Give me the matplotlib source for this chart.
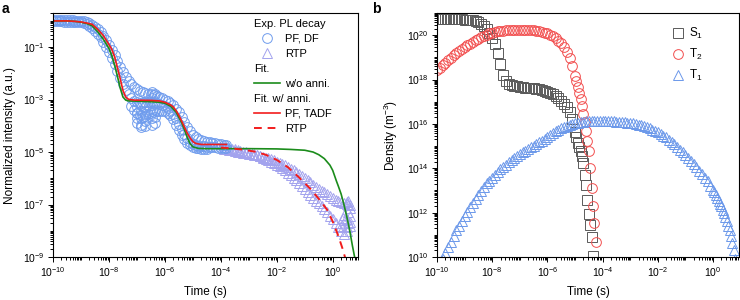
import numpy as np
import matplotlib
matplotlib.use("Agg")
import matplotlib.pyplot as plt
from matplotlib.ticker import FixedLocator, LogLocator, NullFormatter, LogFormatterMathtext
from matplotlib.lines import Line2D

pf_logt = np.linspace(-10, -3.8, 63)
pf_hi = [0.03, 0.03, 0.03, 0.03, 0.02, 0.02, 0.02, 0.02, 0.01, 0.01, 0.0,
         -0.02, -0.05, -0.09, -0.14, -0.22, -0.32, -0.44, -0.58, -0.74, -0.92,
         -1.10, -1.30, -1.52, -1.74, -1.96, -2.15, -2.30, -2.42, -2.52, -2.60,
         -2.66, -2.70, -2.74, -2.78, -2.80, -2.82, -2.85, -2.90, -2.95, -3.00,
         -3.06, -3.13, -3.22, -3.34, -3.48, -3.65, -3.84, -4.03, -4.20, -4.34,
         -4.44, -4.50, -4.54, -4.57, -4.60, -4.62, -4.64, -4.66, -4.68, -4.70,
         -4.72, -4.74]
pf_mid = [-0.02, -0.02, -0.02, -0.02, -0.03, -0.03, -0.03, -0.03, -0.04, -0.05, -0.06,
          -0.09, -0.13, -0.19, -0.27, -0.37, -0.49, -0.63, -0.80, -0.98, -1.18,
          -1.40, -1.64, -1.90, -2.16, -2.40, -2.62, -2.80, -2.95, -3.05, -3.10,
          -3.12, -3.12, -3.10, -3.10, -3.10, -3.12, -3.14, -3.16, -3.20, -3.25,
          -3.32, -3.42, -3.55, -3.72, -3.92, -4.12, -4.32, -4.48, -4.60, -4.68,
          -4.72, -4.75, -4.77, -4.78, -4.79, -4.80, -4.81, -4.82, -4.83, -4.84,
          -4.85, -4.86]
# lower edge of the band where it widens (1e-7 .. 3e-5 s)
pf_lo_logt = np.linspace(-7.2, -4.5, 28)
pf_lo = [-3.25, -3.38, -3.50, -3.60, -3.65, -3.62, -3.55, -3.50, -3.48, -3.45,
         -3.42, -3.42, -3.45, -3.50, -3.60, -3.75, -3.95, -4.15, -4.35, -4.52,
         -4.65, -4.74, -4.80, -4.84, -4.86, -4.87, -4.88, -4.88]
# scattered cluster around 1e-7..1e-6
pf_extra_logt = [-7.0, -7.0, -7.0, -7.0,
                 -6.85, -6.85, -6.85, -6.85, -6.85,
                 -6.7, -6.7, -6.7, -6.7,
                 -6.45, -6.45, -6.45, -6.45, -6.45, -6.45,
                 -6.35, -6.35, -6.35, -6.35, -6.35]
pf_extra_logy = [-3.3, -3.5, -3.7, -3.9,
                 -3.2, -3.45, -3.7, -3.95, -4.05,
                 -3.3, -3.55, -3.8, -4.0,
                 -2.7, -2.95, -3.2, -3.45, -3.7, -3.95,
                 -2.8, -3.1, -3.4, -3.65, -3.9]

rtp_logt = np.linspace(-3.9, 0.6, 46)
rtp_hi = [-4.80, -4.82, -4.85, -4.87, -4.89, -4.92, -4.95, -4.98, -5.01, -5.03,
          -5.06, -5.09, -5.12, -5.15, -5.18, -5.21, -5.24, -5.27, -5.31, -5.36,
          -5.41, -5.46, -5.51, -5.57, -5.63, -5.70, -5.77, -5.84, -5.92, -6.00,
          -6.08, -6.16, -6.24, -6.32, -6.40, -6.47, -6.54, -6.61, -6.68, -6.75,
          -6.82, -6.88, -6.92, -6.95, -6.98, -7.00]
rtp_lo = [-4.88, -4.90, -4.92, -4.94, -4.96, -4.98, -5.00, -5.02, -5.04, -5.06,
          -5.08, -5.10, -5.12, -5.16, -5.21, -5.26, -5.31, -5.36, -5.42, -5.48,
          -5.55, -5.62, -5.70, -5.78, -5.88, -5.98, -6.08, -6.19, -6.30, -6.41,
          -6.52, -6.63, -6.74, -6.85, -6.96, -7.07, -7.18, -7.30, -7.43, -7.56,
          -7.70, -7.86, -8.02, -8.12, -7.85, -7.65]
rtp_extra_logt = [0.5, 0.55, 0.6, 0.55, 0.6, 0.5, 0.55, 0.6, 0.45, 0.4, 0.35, 0.3, 0.5, 0.55]
rtp_extra_logy = [-6.9, -7.0, -7.15, -7.3, -7.45, -7.55, -7.7, -7.8, -7.6, -7.4, -7.5, -7.8, -8.0, -6.85]

# fits
fit_noann_logt = [-10, -9.5, -9.2, -9.0, -8.8, -8.6, -8.4, -8.2, -8.0, -7.9,
                  -7.8, -7.7, -7.6, -7.5, -7.4, -7.3, -7.0, -6.5, -6.2, -6.0,
                  -5.8, -5.6, -5.4, -5.3, -5.2, -5.1, -5.0, -4.8, -4.5, -3.0,
                  -2.0, -1.5, -1.0, -0.7, -0.5, -0.3, -0.1, 0.0, 0.13, 0.2,
                  0.3, 0.4, 0.5, 0.6, 0.7, 0.8]
fit_noann_logy = [0, 0, -0.02, -0.05, -0.10, -0.19, -0.42, -0.70, -1.05, -1.32,
                  -1.68, -2.10, -2.55, -2.90, -3.02, -3.05, -3.06, -3.08, -3.10, -3.14,
                  -3.25, -3.48, -3.88, -4.15, -4.45, -4.68, -4.80, -4.86, -4.87, -4.87,
                  -4.88, -4.90, -4.93, -5.00, -5.10, -5.25, -5.50, -5.70, -6.10, -6.30,
                  -6.60, -7.00, -7.45, -7.95, -8.55, -9.10]
fit_tadf_logt = [-10, -9.5, -9.2, -9.0, -8.8, -8.6, -8.4, -8.2, -8.0, -7.9,
                 -7.8, -7.7, -7.6, -7.5, -7.4, -7.3, -7.1, -6.5, -6.2, -6.0,
                 -5.8, -5.7, -5.6, -5.5, -5.4, -5.3, -5.2, -5.1, -5.0, -4.9,
                 -4.7, -3.8]
fit_tadf_logy = [0, 0, -0.02, -0.04, -0.08, -0.13, -0.32, -0.56, -0.90, -1.08,
                 -1.36, -1.77, -2.19, -2.65, -2.90, -2.99, -3.02, -3.03, -3.05, -3.10,
                 -3.20, -3.28, -3.42, -3.60, -3.82, -4.05, -4.28, -4.46, -4.60, -4.67,
                 -4.71, -4.71]
fit_rtp_logt = [-4.0, -3.6, -3.2, -2.8, -2.4, -2.0, -1.6, -1.2, -0.8, -0.5, -0.2, 0.0, 0.2, 0.35, 0.45]
fit_rtp_logy = [-4.83, -4.86, -4.91, -4.98, -5.10, -5.30, -5.58, -5.97, -6.40, -6.78,
                -7.20, -7.65, -8.20, -8.68, -9.05]

# ---- panel b: simulated densities ----
s1_logt = np.r_[np.linspace(-10, -5.1, 50), np.linspace(-5.0, -4.35, 14)]
s1_logy = [20.72, 20.72, 20.72, 20.72, 20.72, 20.72, 20.72, 20.72, 20.71, 20.71,
           20.70, 20.70, 20.69, 20.67, 20.64, 20.58, 20.50, 20.40, 20.27, 20.10,
           19.88, 19.58, 19.18, 18.68, 18.22, 17.95, 17.82, 17.76, 17.72, 17.69,
           17.67, 17.65, 17.64, 17.62, 17.61, 17.60, 17.58, 17.56, 17.53, 17.50,
           17.46, 17.40, 17.33, 17.25, 17.15, 17.04, 16.92, 16.75, 16.52, 16.22,
           15.64, 15.40, 15.12, 14.95, 14.80, 14.55, 14.22, 13.70, 13.25, 12.55,
           11.95, 11.45, 10.91, 10.05]
t2_logt = np.r_[np.linspace(-10, -5.1, 50), np.linspace(-5.0, -4.25, 16)]
t2_logy = [18.42, 18.53, 18.64, 18.75, 18.87, 18.98, 19.09, 19.19, 19.29, 19.38,
           19.46, 19.54, 19.62, 19.70, 19.78, 19.85, 19.92, 19.98, 20.03, 20.08,
           20.12, 20.15, 20.17, 20.19, 20.21, 20.22, 20.23, 20.24, 20.25, 20.25,
           20.25, 20.25, 20.25, 20.24, 20.24, 20.23, 20.21, 20.19, 20.16, 20.12,
           20.08, 20.02, 19.95, 19.86, 19.76, 19.63, 19.47, 19.25, 18.96, 18.60,
           18.18, 17.92, 17.65, 17.40, 17.12, 16.80, 16.45, 16.10, 15.70, 15.25,
           14.80, 14.00, 13.10, 12.30, 11.55, 10.69]
t1_logt = np.r_[np.linspace(-9.8, -0.1, 98), np.linspace(0.0, 0.8, 17)]
t1_logy = [9.93, 10.19, 10.44, 10.69, 10.95, 11.20, 11.41, 11.62, 11.84, 12.05,
           12.27, 12.45, 12.63, 12.80, 12.98, 13.15, 13.32, 13.44, 13.57, 13.70,
           13.82, 13.95, 14.07, 14.17, 14.27, 14.37, 14.47, 14.56, 14.66, 14.73,
           14.80, 14.87, 14.94, 15.01, 15.09, 15.17, 15.25, 15.33, 15.41, 15.49,
           15.58, 15.67, 15.74, 15.81, 15.87, 15.92, 15.96, 16.00, 16.03, 16.06,
           16.08, 16.10, 16.11, 16.12, 16.12, 16.12, 16.12, 16.12, 16.12, 16.12,
           16.12, 16.11, 16.11, 16.10, 16.09, 16.08, 16.07, 16.06, 16.05, 16.03,
           16.00, 15.97, 15.94, 15.90, 15.85, 15.80, 15.74, 15.68, 15.62, 15.55,
           15.47, 15.39, 15.29, 15.19, 15.08, 14.96, 14.84, 14.72, 14.59, 14.46,
           14.33, 14.19, 14.04, 13.89, 13.73, 13.57, 13.41, 13.22,
           13.01, 12.91, 12.79, 12.67, 12.54, 12.41, 12.28, 12.13, 11.97, 11.80,
           11.62, 11.42, 11.20, 10.95, 10.65, 10.30, 9.90]

plt.rcParams['font.family'] = ['Liberation Sans', 'DejaVu Sans']
plt.rcParams['mathtext.fontset'] = 'custom'
plt.rcParams['mathtext.rm'] = 'Liberation Sans'
plt.rcParams['mathtext.it'] = 'Liberation Sans:italic'
plt.rcParams['mathtext.bf'] = 'Liberation Sans:bold'
plt.rcParams['mathtext.default'] = 'regular'

c_pf = '#6f9ced'
c_rtp = '#a3a3ee'
c_green = '#1b8c1b'
c_red = '#f21c1c'
c_s1 = '#5a5a5a'
c_t2 = '#f24e4e'
c_t1 = '#6b98ea'

fig = plt.figure(figsize=(7.4, 3.0), dpi=100)
ax_a = fig.add_axes([53/740, 43/300, 305/740, 244/300])
ax_b = fig.add_axes([437/740, 43/300, 302/740, 244/300])


def p10(v):
    return 10.0 ** np.asarray(v, dtype=float)


mk = dict(linestyle='none', markerfacecolor='none', markeredgewidth=0.7)

# panel a data
ax_a.plot(p10(rtp_logt), p10(rtp_lo), marker='^', ms=7, color=c_rtp, **mk)
ax_a.plot(p10(rtp_logt), p10(rtp_hi), marker='^', ms=7, color=c_rtp, **mk)
ax_a.plot(p10(rtp_extra_logt), p10(rtp_extra_logy), marker='^', ms=7, color=c_rtp, **mk)
ax_a.plot(p10(pf_logt), p10(pf_mid), marker='o', ms=7, color=c_pf, **mk)
ax_a.plot(p10(pf_logt), p10(pf_hi), marker='o', ms=7, color=c_pf, **mk)
ax_a.plot(p10(pf_lo_logt), p10(pf_lo), marker='o', ms=7, color=c_pf, **mk)
ax_a.plot(p10(pf_extra_logt), p10(pf_extra_logy), marker='o', ms=7, color=c_pf, **mk)
ax_a.plot(p10(fit_noann_logt), p10(fit_noann_logy), color=c_green, lw=1.2)
ax_a.plot(p10(fit_tadf_logt), p10(fit_tadf_logy), color=c_red, lw=1.2)
ax_a.plot(p10(fit_rtp_logt), p10(fit_rtp_logy), color=c_red, lw=1.4, dashes=(4, 3))

ax_a.set_xscale('log')
ax_a.set_yscale('log')
ax_a.set_xlim(1e-10, 8)
ax_a.set_ylim(1e-9, 2)
ax_a.yaxis.set_major_locator(FixedLocator(10.0 ** np.arange(-9, 0, 2)))
ax_a.set_xlabel('Time (s)', fontsize=8.5, labelpad=5)
ax_a.set_ylabel('Normalized intensity (a.u.)', fontsize=8.5, labelpad=5)

# legend of panel a (headers shifted to the handle column)
blank = Line2D([], [], linestyle='none')
handles = [blank,
           Line2D([], [], marker='o', ms=7, color=c_pf, **mk),
           Line2D([], [], marker='^', ms=7, color=c_rtp, **mk),
           blank,
           Line2D([], [], color=c_green, lw=1.2),
           blank,
           Line2D([], [], color=c_red, lw=1.2),
           Line2D([], [], color=c_red, lw=1.4, dashes=(4, 3))]
labels = ['Exp. PL decay', 'PF, DF', 'RTP', 'Fit.', 'w/o anni.',
          'Fit. w/ anni.', 'PF, TADF', 'RTP']
leg = ax_a.legend(handles, labels, loc='upper left', bbox_to_anchor=(0.64, 1.0),
                  frameon=False, fontsize=8, handlelength=2.4, handletextpad=0.45,
                  labelspacing=0.45, borderpad=0.3, borderaxespad=0.2)
fs_px = 8 * 100 / 72
for i in (0, 3, 5):
    leg.get_texts()[i].set_position((-(2.4 + 0.45) * fs_px, 0))

# panel b data
ax_b.plot(p10(s1_logt), p10(s1_logy), marker='s', ms=6.5, color=c_s1, label='S$_1$', **mk)
ax_b.plot(p10(t2_logt), p10(t2_logy), marker='o', ms=7, color=c_t2, label='T$_2$', **mk)
ax_b.plot(p10(t1_logt), p10(t1_logy), marker='^', ms=7, color=c_t1, label='T$_1$', **mk)
ax_b.set_xscale('log')
ax_b.set_yscale('log')
ax_b.set_xlim(1e-10, 8.7)
ax_b.set_ylim(1e10, 1e21)
ax_b.yaxis.set_major_locator(FixedLocator(10.0 ** np.arange(10, 21, 2)))
ax_b.set_xlabel('Time (s)', fontsize=8.5, labelpad=5)
ax_b.set_ylabel('Density (m$^{-3}$)', fontsize=8.5, labelpad=5)
ax_b.legend(loc='upper right', bbox_to_anchor=(0.91, 0.98), frameon=False, fontsize=8.5,
            handlelength=1.0, handletextpad=0.5, labelspacing=0.5, borderpad=0.2)

for ax in (ax_a, ax_b):
    ax.xaxis.set_major_locator(FixedLocator(10.0 ** np.arange(-10, 1, 2)))
    ax.xaxis.set_minor_locator(LogLocator(base=10, subs=np.arange(1, 10), numticks=100))
    ax.yaxis.set_minor_locator(LogLocator(base=10, subs=np.arange(1, 10), numticks=100))
    ax.xaxis.set_major_formatter(LogFormatterMathtext())
    ax.yaxis.set_major_formatter(LogFormatterMathtext())
    ax.xaxis.set_minor_formatter(NullFormatter())
    ax.yaxis.set_minor_formatter(NullFormatter())
    ax.tick_params(which='both', direction='out', top=False, right=False, labelsize=7.5, width=0.7)
    ax.tick_params(which='major', length=3.5, pad=2.5)
    ax.tick_params(which='minor', length=2)
    for sp in ax.spines.values():
        sp.set_linewidth(0.8)

fig.text(2/740, 1 - 2/300, 'a', fontsize=10, fontweight='bold', va='top', ha='left')
fig.text(372/740, 1 - 2/300, 'b', fontsize=10, fontweight='bold', va='top', ha='left')

fig.savefig('out.png', dpi=100)
